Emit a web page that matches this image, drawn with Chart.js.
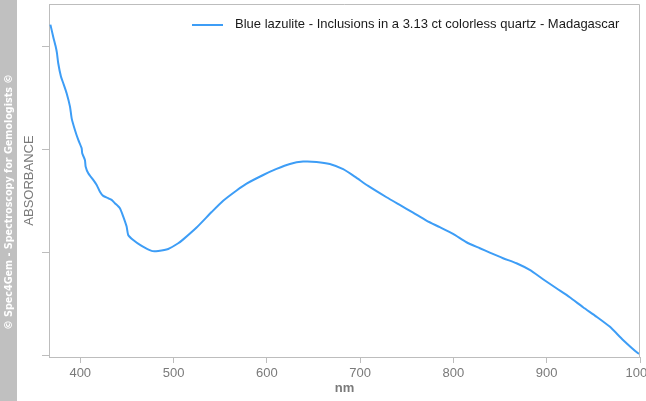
<!DOCTYPE html>
<html>
<head>
<meta charset="utf-8">
<script src="https://cdn.jsdelivr.net/npm/chart.js@4.4.1/dist/chart.umd.min.js"></script>
<style>
  body { margin: 0; background: #fff; }
  #wrap { width: 646px; height: 401px; }
</style>
</head>
<body>
<div id="wrap"><canvas id="spectrumChart" width="646" height="401"></canvas></div>
<script>
// Spectrum (nm / absorbance, arbitrary units)
const wavelengths = [368, 371, 373.6, 375, 376.4, 379.3, 381.8, 385.4, 389, 390.8, 394.3, 397.9, 401.5, 402.1,
    405, 405.8, 408.6, 413.9, 417.6, 421.1, 424.6, 430, 433.6, 437.2, 442.5, 446.1, 449.7, 451.4, 456.8, 465.8,
    476.5, 483.6, 494.3, 505, 510.4, 524.7, 540.8, 553.2, 567.6, 578.3, 596.1, 610.4, 624.7, 638.9, 653.3,
    667.5, 681.8, 694.3, 708.6, 728.3, 742.5, 756.8, 771.1, 785.4, 799.6, 814, 828.3, 839, 853.2, 867.6,
    881.8, 896.1, 910.4, 924.7, 939, 953.3, 967.5, 981.8, 997.9, 1000];
const absorbance = [3.21, 3.093, 3.0, 2.935, 2.835, 2.705, 2.641, 2.544, 2.414, 2.3, 2.187, 2.09, 2.01, 1.961,
    1.896, 1.831, 1.767, 1.702, 1.653, 1.588, 1.547, 1.524, 1.508, 1.476, 1.427, 1.346, 1.249, 1.168, 1.119, 1.061,
    1.013, 1.013, 1.032, 1.087, 1.125, 1.24, 1.39, 1.5, 1.6, 1.666, 1.75, 1.809, 1.857, 1.88, 1.877,
    1.857, 1.806, 1.734, 1.644, 1.534, 1.459, 1.384, 1.307, 1.243, 1.178, 1.097, 1.039, 0.996, 0.942, 0.893,
    0.828, 0.738, 0.65, 0.563, 0.466, 0.375, 0.278, 0.149, 0.019, 0.013];
const xTicks = [400, 500, 600, 700, 800, 900, 1000];
const yTicks = [0, 1, 2, 3];
const seriesLabel = 'Blue lazulite - Inclusions in a 3.13 ct colorless quartz - Madagascar';

const axisGrey = '#bdbdbd';
const textGrey = '#7a7a7a';
const lineBlue = '#3d9df6';
const fontFamily = '"Liberation Sans", Arial';

const points = wavelengths.map((w, i) => ({ x: w, y: absorbance[i] }));

// side band, frame and legend
const decorations = {
    id: 'decorations',
    beforeDraw(chart) {
        const c = chart.ctx;
        c.save();
        c.fillStyle = '#fff';
        c.fillRect(0, 0, chart.width, chart.height);
        c.fillStyle = '#c0c0c0';
        c.fillRect(0, 0, 17, chart.height);
        c.translate(9, 202);
        c.rotate(-Math.PI / 2);
        c.fillStyle = '#fff';
        c.font = 'bold 9.6px "DejaVu Sans"';
        c.textAlign = 'center';
        c.textBaseline = 'middle';
        c.fillText('© Spec4Gem - Spectroscopy for Gemologists ©', 0, 0);
        c.restore();
    },
    afterDraw(chart) {
        const a = chart.chartArea;
        const c = chart.ctx;
        c.save();
        c.strokeStyle = axisGrey;
        c.lineWidth = 1;
        c.beginPath();
        c.moveTo(a.left, a.top + 0.5);
        c.lineTo(a.right - 0.5, a.top + 0.5);
        c.lineTo(a.right - 0.5, a.bottom);
        c.stroke();
        // legend
        c.strokeStyle = lineBlue;
        c.lineWidth = 2;
        c.beginPath();
        c.moveTo(192, 25);
        c.lineTo(223, 25);
        c.stroke();
        c.fillStyle = '#1a1a1a';
        c.font = '13px ' + fontFamily;
        c.textBaseline = 'middle';
        c.fillText(seriesLabel, 235, 24);
        c.restore();
    }
};

new Chart(document.getElementById('spectrumChart'), {
    type: 'line',
    data: {
        datasets: [{
            label: seriesLabel,
            data: points,
            borderColor: lineBlue,
            borderWidth: 2,
            pointRadius: 0,
            tension: 0.2,
            fill: false
        }]
    },
    options: {
        responsive: false,
        animation: false,
        layout: { padding: { top: 4, right: 6, left: 0, bottom: 0 } },
        plugins: {
            legend: { display: false },
            tooltip: { enabled: false }
        },
        scales: {
            x: {
                type: 'linear',
                min: 366.5,
                max: 1000,
                afterBuildTicks: s => { s.ticks = xTicks.map(v => ({ value: v })); },
                afterFit: s => { s.height = 44; s.paddingLeft = 0; s.paddingRight = 0; },
                grid: { drawOnChartArea: false, color: axisGrey, tickLength: 6 },
                border: { color: axisGrey },
                ticks: {
                    color: textGrey,
                    padding: 3,
                    font: { family: fontFamily, size: 13 },
                    maxRotation: 0,
                    callback: v => String(v)
                },
                title: {
                    display: true,
                    text: 'nm',
                    color: textGrey,
                    font: { family: fontFamily, size: 13, weight: 'bold' },
                    padding: { top: 0, bottom: 5 }
                }
            },
            y: {
                min: -0.017,
                max: 3.41,
                afterBuildTicks: s => { s.ticks = yTicks.map(v => ({ value: v })); },
                afterFit: s => { s.width = 49; s.paddingTop = 0; s.paddingBottom = 0; },
                grid: { drawOnChartArea: false, color: axisGrey, tickLength: 7 },
                border: { color: axisGrey },
                ticks: { display: false },
                title: {
                    display: true,
                    text: 'ABSORBANCE',
                    color: textGrey,
                    font: { family: fontFamily, size: 13 },
                    padding: { top: 22, bottom: 0 }
                }
            }
        }
    },
    plugins: [decorations]
});
</script>
</body>
</html>
